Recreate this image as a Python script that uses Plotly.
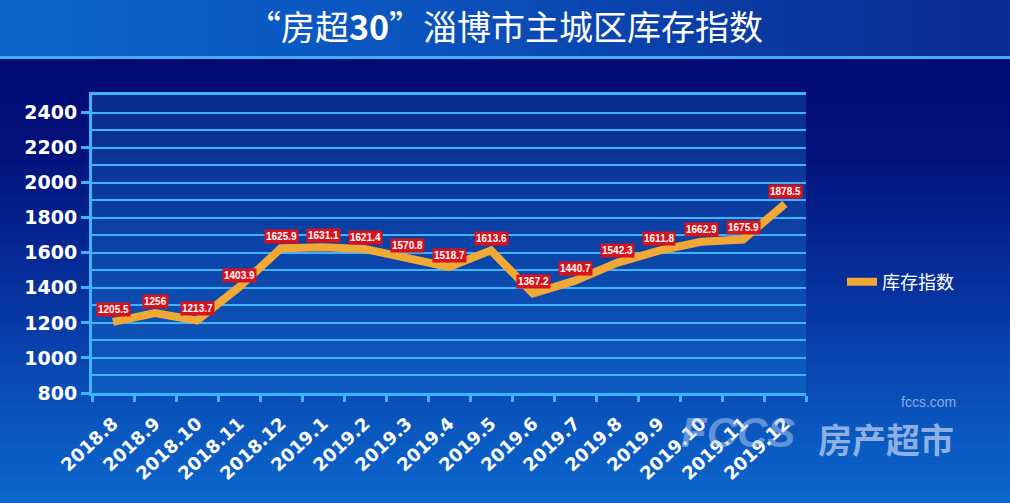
import plotly.graph_objects as go

# ---- data ----
months = ["2018.8", "2018.9", "2018.10", "2018.11", "2018.12", "2019.1", "2019.2",
          "2019.3", "2019.4", "2019.5", "2019.6", "2019.7", "2019.8", "2019.9",
          "2019.10", "2019.11", "2019.12"]
inventory_index = [1205.5, 1256, 1213.7, 1403.9, 1625.9, 1631.1, 1621.4, 1570.8,
                   1518.7, 1613.6, 1367.2, 1440.7, 1542.3, 1611.8, 1662.9, 1675.9, 1878.5]
series_name = "库存指数"
title_text = "“房超<b>30</b>”淄博市主城区库存指数"
y_ticks = [800, 1000, 1200, 1400, 1600, 1800, 2000, 2200, 2400]

# ---- layout geometry (pixels) ----
W, H = 1010, 503
L, R, T, B = 92, 806, 95, 393


def px(xp):
    return (xp - L) / (R - L)


def py(yp):
    return (B - yp) / (B - T)


def hex2rgb(h):
    h = h.lstrip("#")
    return tuple(int(h[i:i + 2], 16) for i in (0, 2, 4))


def lerp_color(stops, t):
    for (p0, c0), (p1, c1) in zip(stops[:-1], stops[1:]):
        if p0 <= t <= p1:
            f = 0 if p1 == p0 else (t - p0) / (p1 - p0)
            a, b = hex2rgb(c0), hex2rgb(c1)
            return "rgb(%d,%d,%d)" % tuple(round(a[i] + (b[i] - a[i]) * f) for i in range(3))
    if t < stops[0][0]:
        return "rgb(%d,%d,%d)" % hex2rgb(stops[0][1])
    return "rgb(%d,%d,%d)" % hex2rgb(stops[-1][1])


shapes = []

# lower background vertical gradient
lower_stops = [(58, "#020b74"), (150, "#03117b"), (300, "#0734a0"), (420, "#0a55bd"), (503, "#0b66cb")]
n = 45
y0p = 56
for i in range(n):
    a = y0p + (H - y0p) * i / n
    b = y0p + (H - y0p) * (i + 1) / n + 0.6
    c = lerp_color(lower_stops, (a + b) / 2)
    shapes.append(dict(type="rect", xref="paper", yref="paper", layer="below",
                       x0=px(-2), x1=px(W + 2), y0=py(b), y1=py(a),
                       fillcolor=c, line=dict(width=0)))

# header horizontal gradient
head_stops = [(0, "#0c64ca"), (400, "#0b55bf"), (750, "#0a3aa2"), (1010, "#0a2a90")]
n = 40
for i in range(n):
    a = W * i / n
    b = W * (i + 1) / n + 0.6
    c = lerp_color(head_stops, (a + b) / 2)
    shapes.append(dict(type="rect", xref="paper", yref="paper", layer="below",
                       x0=px(a), x1=px(b), y0=py(56), y1=py(-2),
                       fillcolor=c, line=dict(width=0)))

# cyan separator line under header
shapes.append(dict(type="rect", xref="paper", yref="paper", layer="below",
                   x0=px(-2), x1=px(W + 2), y0=py(59), y1=py(56),
                   fillcolor="#3fb0f5", line=dict(width=0)))

# plot-area vertical gradient
plot_stops = [(95, "#0a2a8e"), (250, "#0b44a8"), (393, "#0e5cc0")]
n = 30
for i in range(n):
    a = T + (B - T) * i / n
    b = T + (B - T) * (i + 1) / n + 0.6
    c = lerp_color(plot_stops, (a + b) / 2)
    shapes.append(dict(type="rect", xref="paper", yref="paper", layer="below",
                       x0=0, x1=1, y0=py(min(b, B)), y1=py(a),
                       fillcolor=c, line=dict(width=0)))

fig = go.Figure()
fig.add_trace(go.Scatter(
    x=months, y=inventory_index, mode="lines", name=series_name,
    line=dict(color="#f2a834", width=8),
    hoverinfo="x+y",
))

annotations = []
for i, v in enumerate(inventory_index):
    annotations.append(dict(
        x=i, y=v, xref="x", yref="y", text=f"{v:g}", showarrow=False,
        yshift=12, bgcolor="#d8121c", borderpad=1,
        font=dict(family="Liberation Sans", size=10, color="white", weight="bold"),
    ))

# watermark logo text (bottom-right)
wm = "rgba(185,205,240,0.75)"
annotations.append(dict(xref="paper", yref="paper", x=px(886), y=py(438), text="房产超市",
                        showarrow=False, xanchor="center", yanchor="middle",
                        font=dict(family="Noto Sans CJK SC", size=34, color=wm, weight="bold")))
annotations.append(dict(xref="paper", yref="paper", x=px(958), y=py(402), text="fccs.com",
                        showarrow=False, xanchor="right", yanchor="middle",
                        font=dict(family="Liberation Sans", size=14, color=wm)))
annotations.append(dict(xref="paper", yref="paper", x=px(738), y=py(432), text="<i>FCCS</i>",
                        showarrow=False, xanchor="center", yanchor="middle",
                        font=dict(family="Liberation Sans", size=42, color="rgba(185,205,240,0.5)", weight="bold")))

axis_cyan = "#3fb4f8"
fig.update_layout(
    width=W, height=H,
    margin=dict(l=L, r=W - R, t=T, b=H - B),
    paper_bgcolor="#041480",
    plot_bgcolor="rgba(0,0,0,0)",
    title=dict(text=title_text, x=0.5, xanchor="center", y=1 - 28 / H, yanchor="middle",
               font=dict(family="Noto Sans CJK SC", size=34, color="white")),
    shapes=shapes,
    annotations=annotations,
    showlegend=True,
    legend=dict(x=px(842), y=py(282), xanchor="left", yanchor="middle",
                bgcolor="rgba(0,0,0,0)",
                font=dict(family="Noto Sans CJK SC", size=18, color="white")),
    xaxis=dict(
        type="category", range=[-0.5, len(months) - 0.5],
        showgrid=False, showline=True, linecolor=axis_cyan, linewidth=3, mirror=True,
        ticks="outside", tickson="boundaries", ticklen=6, tickwidth=3, tickcolor=axis_cyan,
        tickangle=-43, ticklabelstandoff=10,
        tickfont=dict(family="DejaVu Sans", size=18, color="white", weight="bold"),
    ),
    yaxis=dict(
        range=[800, 2500], tickvals=y_ticks,
        showgrid=True, gridcolor=axis_cyan, gridwidth=1.5,
        minor=dict(dtick=100, tick0=800, showgrid=True, gridcolor=axis_cyan, gridwidth=1.5, ticks=""),
        zeroline=False,
        showline=True, linecolor=axis_cyan, linewidth=3,
        ticks="outside", ticklen=8, tickwidth=3, tickcolor=axis_cyan,
        tickfont=dict(family="DejaVu Sans", size=19, color="white", weight="bold"),
    ),
)

fig.write_html("out.html", config={"displayModeBar": False},
               post_script="document.body.style.margin='0';document.body.style.overflow='hidden';")
